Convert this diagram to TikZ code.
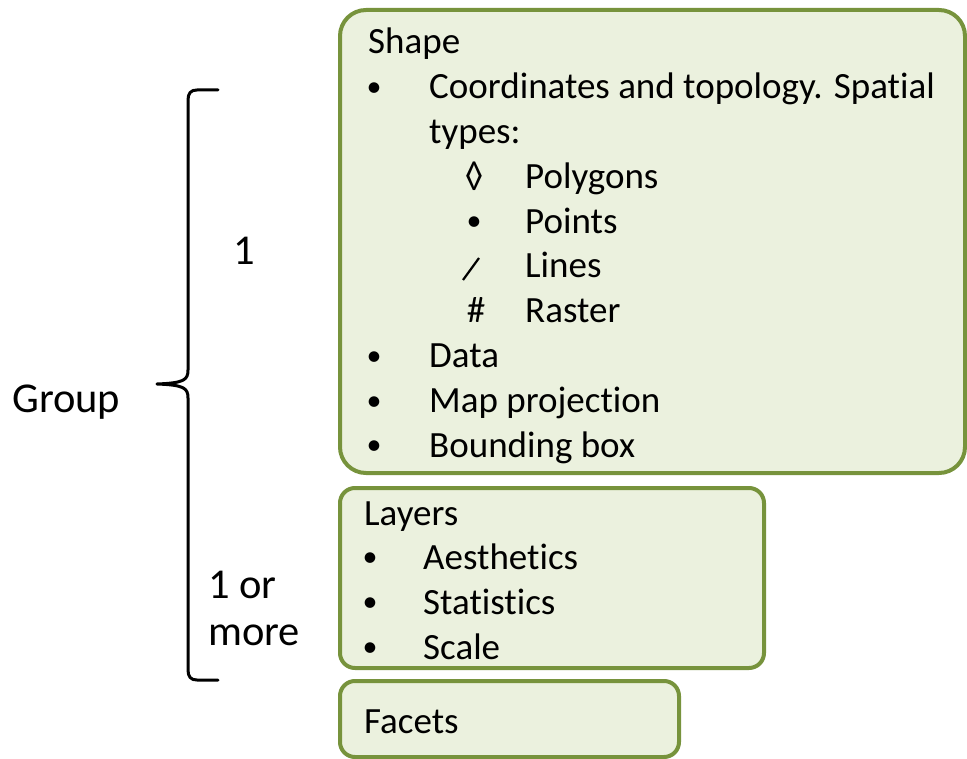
\documentclass[tikz,border=0pt]{standalone}
\usepackage{fontspec}
\setmainfont[Ligatures=NoCommon]{Carlito}
\definecolor{boxline}{HTML}{77933C}
\definecolor{boxfill}{HTML}{EBF1DE}
\begin{document}
\begin{tikzpicture}[x=1pt,y=-1pt,
  box/.style={draw=boxline,fill=boxfill,line width=4pt,rounded corners=#1,inner sep=0pt,outer sep=0pt,anchor=north west},
  txt/.style={anchor=base west,inner sep=0pt,font=\fontsize{37}{44}\selectfont},
  sym/.style={anchor=base,inner sep=0pt,font=\fontsize{37}{44}\selectfont},
  bul/.style={anchor=base,inner sep=0pt,font=\fontsize{30}{44}\selectfont},
  lbl/.style={inner sep=0pt,font=\fontsize{42.5}{47}\selectfont}]
\useasboundingbox (0,0) rectangle (967,759);
% boxes
\node[box=26pt,minimum width=625pt,minimum height=463pt] (shapebox) at (340,10) {};
\node[box=15pt,minimum width=424pt,minimum height=180pt] (layersbox) at (340,488) {};
\node[box=15pt,minimum width=339pt,minimum height=76pt] (facetsbox) at (340,681) {};
% Shape text
\node[txt] (shape) at (368,54) {Shape};
\node[bul] (b1) at (374,96.5) {•};
\node[txt] (coord) at (429,98.8) {Coordinates and topology. Spatial};
\node[txt] (types) at (429,143.6) {types:};
\node[sym] (s1) at (474,188.4) {◊};
\node[txt] (poly) at (525,188.4) {Polygons};
\node[bul] (s2) at (474,231) {•};
\node[txt] (pts) at (525,233.2) {Points};
\draw[line width=2.2pt] (463,280) -- (479,258);
\node[txt] (lines) at (525,278) {Lines};
\node[sym] (s4) at (476,322.8) {\#};
\node[txt] (raster) at (525,322.8) {Raster};
\node[bul] (b2) at (374,365.3) {•};
\node[txt] (data) at (429,367.6) {Data};
\node[bul] (b3) at (374,410.1) {•};
\node[txt] (map) at (429,412.4) {Map projection};
\node[bul] (b4) at (374,454.9) {•};
\node[txt] (bbox) at (429,457.2) {Bounding box};
% Layers text
\node[txt] (layers) at (364,525) {Layers};
\node[bul] (l1) at (370,566.7) {•};
\node[txt] (aes) at (423,569) {Aesthetics};
\node[bul] (l2) at (370,611.7) {•};
\node[txt] (stat) at (423,614) {Statistics};
\node[bul] (l3) at (370,656.7) {•};
\node[txt] (scale) at (423,659) {Scale};
% Facets
\node[txt] (facets) at (364,733) {Facets};
% labels
\node[lbl,anchor=base west] (group) at (12,413) {Group};
\node[lbl,anchor=base west] (one) at (233,265) {1};
\node[lbl,anchor=base west] (oneor) at (208,598) {1 or};
\node[lbl,anchor=base west] (more) at (208,645) {more};
% brace
\draw[line width=3pt,line cap=round,line join=round]
  (218,90) -- (197,90) .. controls (191,90) and (188,93) .. (188,100)
  -- (188,370) .. controls (188,380) and (184,383) .. (157,384)
  .. controls (184,385) and (188,388) .. (188,398)
  -- (188,670) .. controls (188,677) and (191,680) .. (197,680) -- (218,680);
\end{tikzpicture}
\end{document}
